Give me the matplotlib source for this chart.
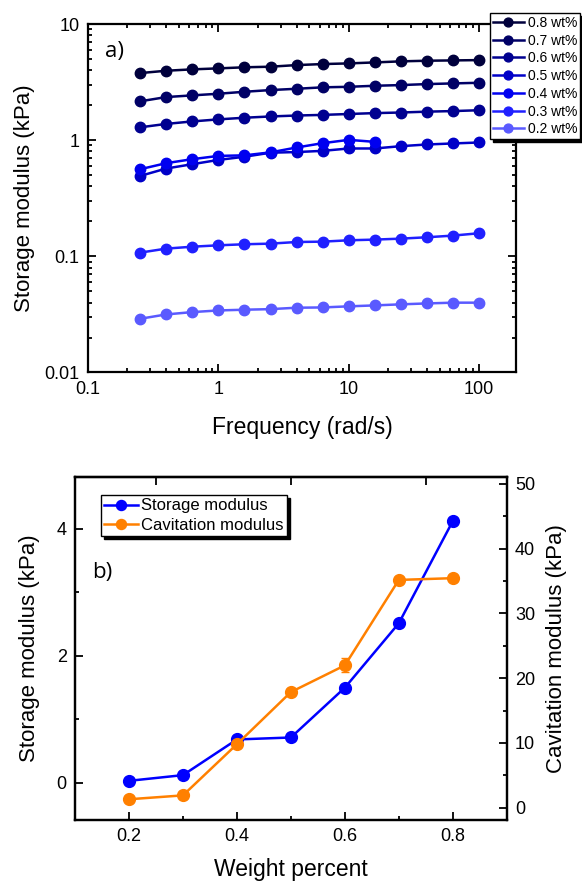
import matplotlib
matplotlib.use("Agg")
import matplotlib.pyplot as plt
from matplotlib.ticker import FuncFormatter, MultipleLocator, LogLocator, NullFormatter

plt.rcParams['font.family'] = ['Liberation Sans', 'DejaVu Sans']

# Panel a) : frequency sweep
freq = [0.251, 0.398, 0.631, 1.0, 1.585, 2.512, 3.981, 6.31, 10.0, 15.85,
        25.12, 39.81, 63.1, 100.0]

g_08 = [3.78, 3.96, 4.07, 4.15, 4.24, 4.29, 4.43, 4.52, 4.58, 4.67, 4.77, 4.83, 4.86, 4.89]
g_07 = [2.16, 2.35, 2.43, 2.51, 2.61, 2.70, 2.77, 2.85, 2.88, 2.94, 2.98, 3.04, 3.08, 3.12]
g_06 = [1.29, 1.38, 1.45, 1.51, 1.56, 1.60, 1.63, 1.65, 1.68, 1.71, 1.73, 1.76, 1.78, 1.81]
g_05 = [0.492, 0.570, 0.621, 0.676, 0.720, 0.780, 0.790, 0.809, 0.848, 0.848,
        0.888, 0.918, 0.937, 0.955]
g_04 = [0.562, 0.634, 0.686, 0.732, 0.740, 0.785, 0.865, 0.942, 1.006, 0.967]
g_03 = [0.1076, 0.1165, 0.121, 0.1244, 0.127, 0.1286, 0.1328, 0.1338, 0.1374,
        0.1393, 0.142, 0.1459, 0.1508, 0.158]
g_02 = [0.0290, 0.0316, 0.0331, 0.0342, 0.0347, 0.0351, 0.0361, 0.0363, 0.0371,
        0.0378, 0.0386, 0.0393, 0.0399, 0.0399]

series_a = [("0.8 wt%", g_08), ("0.7 wt%", g_07), ("0.6 wt%", g_06), ("0.5 wt%", g_05),
            ("0.4 wt%", g_04), ("0.3 wt%", g_03), ("0.2 wt%", g_02)]
colors_a = ['#00003c', '#000066', '#000090', '#0000c8', '#0000f0', '#2020ff', '#5a5aff']

# Panel b) : moduli vs weight percent
weight = [0.2, 0.3, 0.4, 0.5, 0.6, 0.7, 0.8]
storage = [0.027, 0.117, 0.679, 0.71, 1.495, 2.51, 4.12]
cavitation = [1.3, 1.9, 9.8, 17.85, 21.97, 35.16, 35.43]
cavitation_err = [0, 0, 0, 0, 1.1, 0, 0]

fig = plt.figure(figsize=(5.82, 8.86), dpi=100)

# ---------- panel a ----------
ax1 = fig.add_axes([0.1512, 0.5796, 0.7354, 0.3933])
for (lab, vals), c in zip(series_a, colors_a):
    ax1.plot(freq[:len(vals)], vals, '-o', color=c, lw=1.8, ms=7.5, label=lab)

ax1.set_xscale('log')
ax1.set_yscale('log')
ax1.set_xlim(0.1, 192)
ax1.set_ylim(0.01, 10)
fmt = FuncFormatter(lambda v, p: '%g' % v)
ax1.xaxis.set_major_formatter(fmt)
ax1.yaxis.set_major_formatter(fmt)
ax1.xaxis.set_minor_locator(LogLocator(base=10, subs=range(2, 10)))
ax1.yaxis.set_minor_locator(LogLocator(base=10, subs=range(2, 10)))
ax1.xaxis.set_minor_formatter(NullFormatter())
ax1.yaxis.set_minor_formatter(NullFormatter())
ax1.tick_params(which='both', direction='in', top=True, right=True, labelsize=13, width=1.3)
ax1.tick_params(which='major', length=6, pad=6)
ax1.tick_params(which='minor', length=3)
for s in ax1.spines.values():
    s.set_linewidth(1.6)
ax1.set_xlabel("Frequency (rad/s)", fontsize=16.5, labelpad=13)
ax1.set_ylabel("Storage modulus (kPa)", fontsize=16, labelpad=7)
ax1.text(0.04, 0.95, "a)", transform=ax1.transAxes, fontsize=16, va='top',
         family=['Open Sans', 'DejaVu Sans'])

leg1 = ax1.legend(loc='upper right', bbox_to_anchor=(580 / 582, 1 - 13 / 886),
                  bbox_transform=fig.transFigure, borderaxespad=0, fontsize=10,
                  fancybox=False, edgecolor='black', framealpha=1,
                  shadow={'color': 'black', 'alpha': 1, 'shade': 0},
                  handlelength=2.2, handletextpad=0.3, borderpad=0.2,
                  labelspacing=0.27, markerscale=0.85)
leg1.get_frame().set_linewidth(1.0)

# ---------- panel b ----------
ax2 = fig.add_axes([0.1289, 0.0745, 0.7418, 0.3875])
ax3 = ax2.twinx()
l1, = ax2.plot(weight, storage, '-o', color='#0000ff', lw=1.8, ms=8.5)
l2 = ax3.errorbar(weight, cavitation, yerr=cavitation_err, fmt='-o', color='#ff8000',
                  lw=1.8, ms=8.5, capsize=3, elinewidth=1)

ax2.set_xlim(0.1, 0.9)
ax2.set_ylim(-0.59, 4.82)
ax3.set_ylim(-1.9, 51.1)
ax2.xaxis.set_major_locator(MultipleLocator(0.2))
ax2.xaxis.set_minor_locator(MultipleLocator(0.1))
ax2.xaxis.set_major_formatter(FuncFormatter(lambda v, p: '%.1f' % v))
ax2.yaxis.set_major_locator(MultipleLocator(2))
ax2.yaxis.set_minor_locator(MultipleLocator(1))
ax3.yaxis.set_major_locator(MultipleLocator(10))
ax3.yaxis.set_minor_locator(MultipleLocator(5))
ax2.tick_params(which='both', direction='in', labelsize=13, width=1.3, top=False)
ax3.tick_params(which='both', direction='in', labelsize=13, width=1.3)
for a in (ax2, ax3):
    a.tick_params(which='major', length=6, pad=6)
    a.tick_params(which='minor', length=3)
    for s in a.spines.values():
        s.set_linewidth(1.6)

top = ax2.secondary_xaxis('top')
top.set_xticks([0.25, 0.5, 0.75])
top.tick_params(direction='in', length=6, width=1.3, labeltop=False)
top.spines['top'].set_linewidth(1.6)

ax2.set_xlabel("Weight percent", fontsize=16.5, labelpad=9)
ax2.set_ylabel("Storage modulus (kPa)", fontsize=16, labelpad=12)
ax3.set_ylabel("Cavitation modulus (kPa)", fontsize=16, labelpad=8)
ax2.text(0.04, 0.75, "b)", transform=ax2.transAxes, fontsize=16, va='top',
         family=['Open Sans', 'DejaVu Sans'])

leg2 = ax3.legend([l1, l2[0]], ['Storage modulus', 'Cavitation modulus'],
                  loc='upper left', bbox_to_anchor=(101 / 582, 1 - 495 / 886),
                  bbox_transform=fig.transFigure, borderaxespad=0, fontsize=12,
                  fancybox=False, edgecolor='black', framealpha=1,
                  shadow={'color': 'black', 'alpha': 1, 'shade': 0},
                  handlelength=2.0, handletextpad=0.2, borderpad=0.2,
                  labelspacing=0.25, markerscale=0.85)
leg2.get_frame().set_linewidth(1.0)

fig.savefig("out.png", dpi=100)
